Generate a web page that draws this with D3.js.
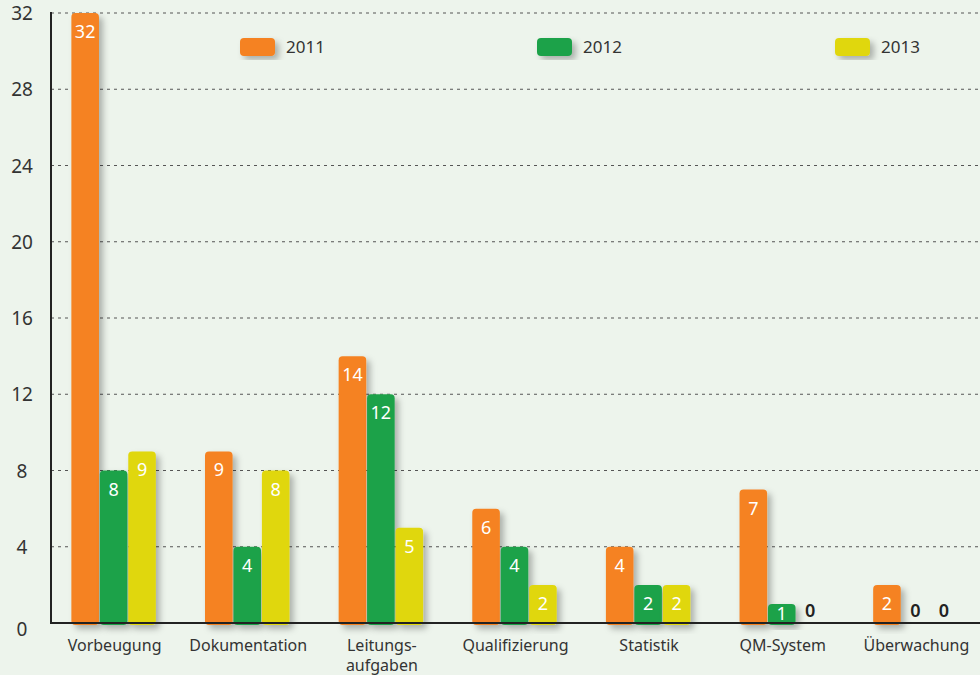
<!DOCTYPE html>
<html>
<head>
<meta charset="utf-8">
<script src="https://cdn.jsdelivr.net/npm/d3@7"></script>
<style>
body{margin:0;background:#edf4ec;}
svg{display:block;font-family:"Noto Sans",sans-serif;}
</style>
</head>
<body>
<svg id="chart"></svg>
<script>
let categories=["Vorbeugung","Dokumentation","Leitungs-\naufgaben","Qualifizierung","Statistik","QM-System","Überwachung"];
let years=["2011","2012","2013"];
let v2011=[32,9,14,6,4,7,2];
let v2012=[8,4,12,4,2,1,0];
let v2013=[9,8,5,2,2,0,0];
let yTicks=[0,4,8,12,16,20,24,28,32];
let colors=["#f58220","#1fa249","#e0d70a"];

let width=980,height=675;
let left=51,right=980,top0=13,bottom=623;

let svg=d3.select("#chart").attr("width",width).attr("height",height);
svg.append("rect").attr("width",width).attr("height",height).attr("fill","#edf4ec");

let defs=svg.append("defs");
let f=defs.append("filter").attr("id","shadow").attr("x","-30%").attr("y","-10%").attr("width","180%").attr("height","130%");
f.append("feDropShadow").attr("dx",4).attr("dy",4).attr("stdDeviation",3).attr("flood-color","#000").attr("flood-opacity",0.28);

let y=d3.scaleLinear().domain([0,32]).range([bottom,top0]);
let x0=d3.scaleBand().domain(categories).range([left,right]).paddingInner(0.368).paddingOuter(0.16);
let x1=d3.scaleBand().domain(years).range([0,x0.bandwidth()]).paddingInner(0.03);

// gridlines
svg.append("g").selectAll("line").data(yTicks.filter(d=>d>0)).enter().append("line")
.attr("x1",left).attr("x2",right).attr("y1",d=>y(d)).attr("y2",d=>y(d))
.attr("stroke","#555").attr("stroke-width",1).attr("stroke-dasharray","3,4");

// y tick labels
svg.append("g").selectAll("text").data(yTicks).enter().append("text")
.attr("x",22).attr("y",d=>y(d)+(d==0?13:7)).attr("text-anchor","middle")
.style("font-size","19px").attr("fill","#333").text(d=>d);

let rows=categories.map((c,i)=>({cat:c,vals:[v2011[i],v2012[i],v2013[i]]}));

let groups=svg.append("g").selectAll("g").data(rows).enter().append("g")
.attr("transform",d=>"translate("+(x0(d.cat)-1)+",0)");

groups.selectAll("rect").data(d=>d.vals.map((v,j)=>({v:v,year:years[j],j:j})).filter(d=>d.v>0)).enter().append("rect")
.attr("x",d=>x1(d.year)).attr("width",x1.bandwidth())
.attr("y",d=>y(d.v)).attr("height",d=>bottom-y(d.v)+2)
.attr("rx",4).attr("fill",d=>colors[d.j]).attr("filter","url(#shadow)");

// axes lines
svg.append("line").attr("x1",left).attr("x2",left).attr("y1",top0-1).attr("y2",bottom+1).attr("stroke","#222").attr("stroke-width",2);
svg.append("line").attr("x1",left).attr("x2",right).attr("y1",bottom).attr("y2",bottom).attr("stroke","#222").attr("stroke-width",2);

// value labels
groups.selectAll("text.val").data(d=>d.vals.map((v,j)=>({v:v,year:years[j],j:j}))).enter().append("text")
.attr("class","val")
.attr("x",d=>x1(d.year)+x1.bandwidth()/2)
.attr("y",d=>d.v==0?617:Math.min(y(d.v)+25,620))
.attr("text-anchor","middle")
.style("font-size","18px")
.style("font-weight",d=>d.v==0?"600":"normal")
.attr("fill",d=>d.v==0?"#222":"#fff")
.text(d=>d.v);

// category labels
let cl=svg.append("g").selectAll("text").data(categories).enter().append("text")
.attr("x",d=>x0(d)+x0.bandwidth()/2).attr("y",651).attr("text-anchor","middle")
.style("font-size","16px").attr("fill","#333");
cl.selectAll("tspan").data(d=>d.split("\n")).enter().append("tspan")
.attr("x",function(){return d3.select(this.parentNode).attr("x");})
.attr("dy",(d,i)=>i==0?0:20).text(d=>d);

// legend
let legX=[240,537,835];
let leg=svg.append("g").selectAll("g").data(years).enter().append("g")
.attr("transform",(d,i)=>"translate("+legX[i]+",38)");
leg.append("rect").attr("width",35).attr("height",18).attr("rx",4)
.attr("fill",(d,i)=>colors[i]).attr("filter","url(#shadow)");
leg.append("text").attr("x",46).attr("y",15).style("font-size","17px").attr("fill","#333").text(d=>d);
</script>
</body>
</html>
